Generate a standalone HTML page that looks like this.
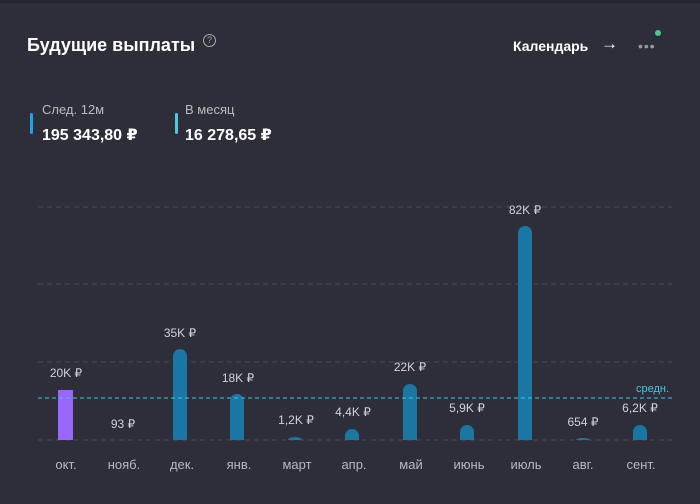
<!DOCTYPE html>
<html><head><meta charset="utf-8"><style>
body{margin:0;width:700px;height:504px;background:#2e2e3a;font-family:"Liberation Sans","DejaVu Sans",sans-serif;overflow:hidden;position:relative}
.top{position:absolute;left:0;top:0;width:700px;height:3px;background:#25252d}
.t{position:absolute;color:#fff;font-weight:bold}
</style></head><body>
<div class="top"></div>
<div class="t" style="left:27px;top:35px;font-size:18px">Будущие выплаты</div>
<div style="position:absolute;left:203px;top:34px;width:11px;height:11px;border:1px solid #aaa;border-radius:50%;color:#aaa;font-size:9px;line-height:11px;text-align:center">?</div>
<div class="t" style="left:513px;top:38px;font-size:14px">Календарь</div>
<div class="t" style="left:601px;top:34px;font-size:17px">→</div>
<div style="position:absolute;left:638px;top:44px;color:#999;font-size:14px;letter-spacing:1px;line-height:4px">•••</div>
<div style="position:absolute;left:655px;top:30px;width:6px;height:6px;border-radius:50%;background:#3ecf8e"></div>
<div style="position:absolute;left:30px;top:113px;width:3px;height:21px;border-radius:2px;background:#1ea5e8"></div>
<div style="position:absolute;left:42px;top:102px;color:#bbb;font-size:13px">След. 12м</div>
<div class="t" style="left:42px;top:125px;font-size:16px">195 343,80 ₽</div>
<div style="position:absolute;left:175px;top:113px;width:3px;height:21px;border-radius:2px;background:#4ec8e0"></div>
<div style="position:absolute;left:185px;top:102px;color:#bbb;font-size:13px">В месяц</div>
<div class="t" style="left:185px;top:125px;font-size:16px">16 278,65 ₽</div>
<svg width="700" height="504" style="position:absolute;left:0;top:0" font-family="Liberation Sans, sans-serif">
<g stroke="#4a4a56" stroke-dasharray="5,4" stroke-width="1">
<line x1="38" y1="207" x2="672" y2="207"/><line x1="38" y1="284" x2="672" y2="284"/><line x1="38" y1="362" x2="672" y2="362"/><line x1="38" y1="440" x2="672" y2="440"/>
</g>
<rect x="58" y="390" width="15" height="50" fill="#9966ff"/>
<g fill="#1a76a3">
<path d="M173 440V356a7 7 0 0 1 14 0V440z"/>
<path d="M230 440V401a7 7 0 0 1 14 0V440z"/>
<path d="M345 440V436a7 7 0 0 1 14 0V440z"/>
<path d="M403 440V391a7 7 0 0 1 14 0V440z"/>
<path d="M460 440V432a7 7 0 0 1 14 0V440z"/>
<path d="M518 440V233a7 7 0 0 1 14 0V440z"/>
<path d="M576 440a7 2 0 0 1 14 0z"/>
<path d="M288 440a7 3 0 0 1 14 0z"/>
<path d="M633 440V432a7 7 0 0 1 14 0V440z"/>
</g>
<line x1="38" y1="398" x2="672" y2="398" stroke="#3ec9e0" stroke-dasharray="4,3"/>
<text x="669" y="392" fill="#3ec9e0" font-size="11" text-anchor="end">средн.</text>
<g fill="#d0d0d8" font-size="12" text-anchor="middle">
<text x="66" y="377">20K ₽</text><text x="123" y="428">93 ₽</text><text x="180" y="337">35K ₽</text><text x="238" y="382">18K ₽</text><text x="296" y="424">1,2K ₽</text><text x="353" y="416">4,4K ₽</text><text x="410" y="371">22K ₽</text><text x="467" y="412">5,9K ₽</text><text x="525" y="214">82K ₽</text><text x="583" y="426">654 ₽</text><text x="640" y="412">6,2K ₽</text>
</g>
<g fill="#b8b8c4" font-size="13" text-anchor="middle">
<text x="66" y="469">окт.</text><text x="124" y="469">нояб.</text><text x="182" y="469">дек.</text><text x="239" y="469">янв.</text><text x="297" y="469">март</text><text x="354" y="469">апр.</text><text x="411" y="469">май</text><text x="469" y="469">июнь</text><text x="526" y="469">июль</text><text x="583" y="469">авг.</text><text x="641" y="469">сент.</text>
</g>
</svg>
</body></html>
